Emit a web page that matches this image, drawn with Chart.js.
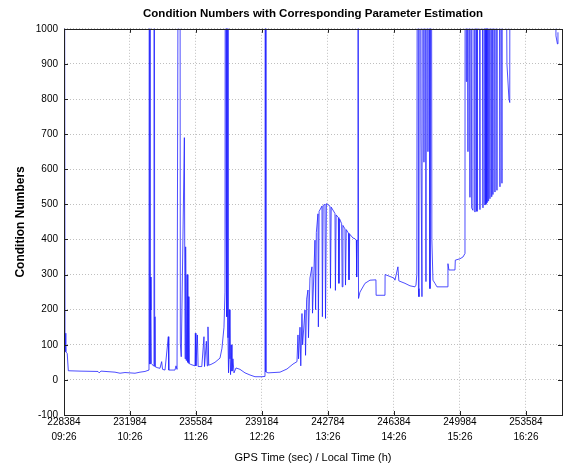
<!DOCTYPE html>
<html>
<head>
<meta charset="utf-8">
<script src="https://cdn.jsdelivr.net/npm/chart.js@4/dist/chart.umd.min.js"></script>
<style>
  html, body { margin: 0; padding: 0; background: #fff; }
</style>
</head>
<body>
<canvas id="c" width="565" height="468"></canvas>
<script>
// x ticks: GPS seconds of week + local time
const xTickValues = [228384, 231984, 235584, 239184, 242784, 246384, 249984, 253584];
const localTimeLabels = ['09:26', '10:26', '11:26', '12:26', '13:26', '14:26', '15:26', '16:26'];
const xRange = [228384, 255550];
const yRange = [-100, 1000];

// values above 1000 leave the axes (spikes)
const gpsTime = [
  228384, 228439, 228470, 228493, 228560, 228620, 229257, 230239,
  230300, 230400, 231166, 231439, 231711, 232257, 232529, 232802,
  233020, 233050, 233075, 233110, 233129, 233150, 233260, 233293,
  233330, 233348, 233460, 233620, 233711, 233760, 233893, 234075,
  234100, 234438, 234493, 234550, 234693, 234730, 234780, 234950,
  234990, 235020, 235060, 235100, 235140, 235160, 235200, 235300,
  235529, 235550, 235580, 235660, 235700, 235900, 236020, 236050,
  236150, 236200, 236238, 236280, 236400, 236620, 236893, 237002,
  237111, 237166, 237200, 237230, 237250, 237275, 237300, 237329,
  237360, 237400, 237438, 237470, 237500, 237547, 237600, 237657,
  237766, 237984, 238257, 238529, 238802, 239184, 239348, 239370,
  239390, 239402, 239511, 240166, 240547, 240875, 241093, 241147,
  241180, 241257, 241300, 241366, 241400, 241529, 241560, 241620,
  241693, 241720, 241800, 241911, 241940, 242075, 242110, 242150,
  242238, 242260, 242300, 242457, 242480, 242520, 242620, 242650,
  242700, 242893, 242920, 242960, 243166, 243190, 243230, 243350,
  243380, 243420, 243530, 243560, 243600, 243711, 243740, 243780,
  243900, 243930, 243970, 244150, 244257, 244330, 244350, 244380,
  244420, 244450, 244529, 244802, 245075, 245400, 245410, 245893,
  245900, 246384, 246438, 246600, 246650, 246984, 247257, 247529,
  247584, 247630, 247693, 247720, 247747, 247800, 247850, 247911,
  247966, 248020, 248060, 248129, 248180, 248238, 248300, 248347,
  248402, 248450, 248511, 248620, 248729, 249300, 249329, 249380,
  249711, 249730, 249984, 250147, 250257, 250280, 250330, 250366,
  250420, 250450, 250529, 250560, 250620, 250693, 250720, 250802,
  250860, 250911, 250980, 251075, 251120, 251238, 251280, 251347,
  251380, 251400, 251430, 251456, 251490, 251520, 251550, 251620,
  251650, 251700, 251730, 251784, 251820, 251893, 251930, 252002,
  252060, 252166, 252220, 252275, 252300, 252547, 252657, 252700,
  252740, 255166, 255220, 255300, 255330
];
const conditionNumber = [
  3000, 133, 100, 80, 75, 26, 25, 24,
  20, 25, 22, 19, 21, 19, 22, 24,
  28, 3000, 45, 293, 199, 47, 40, 3000,
  180, 38, 35, 33, 52, 30, 28, 123,
  28, 28, 40, 30, 3000, 105, 66, 690,
  60, 379, 55, 300, 50, 237, 47, 44,
  40, 133, 40, 128, 38, 38, 123, 38,
  110, 40, 151, 42, 44, 50, 62, 90,
  150, 250, 3000, 450, 3000, 180, 3000, 120,
  20, 200, 60, 15, 100, 25, 60, 20,
  34, 30, 20, 14, 9, 9, 10, 3000,
  137, 23, 20, 22, 31, 45, 52, 128,
  60, 150, 40, 189, 100, 199, 70, 230,
  256, 120, 290, 322, 190, 398, 200, 420,
  473, 151, 480, 495, 180, 497, 500, 175,
  502, 495, 261, 492, 474, 255, 470, 462,
  275, 458, 445, 265, 440, 430, 270, 428,
  418, 285, 415, 404, 402, 398, 293, 398,
  3000, 232, 250, 275, 284, 285, 241, 241,
  300, 290, 284, 322, 282, 275, 268, 265,
  270, 300, 3000, 260, 237, 3000, 700, 237,
  3000, 620, 3000, 280, 3000, 650, 3000, 260,
  3000, 400, 284, 275, 265, 265, 331, 313,
  313, 341, 345, 350, 360, 3000, 850, 3000,
  650, 3000, 520, 3000, 490, 483, 3000, 478,
  3000, 480, 3000, 485, 3000, 490, 3000, 498,
  3000, 500, 3000, 505, 3000, 510, 3000, 516,
  3000, 522, 3000, 528, 3000, 535, 3000, 540,
  3000, 550, 3000, 560, 3000, 900, 800, 790,
  3000, 3000, 980, 957, 990
];

const points = gpsTime.map((t, i) => ({ x: t, y: conditionNumber[i] }));

const FONT = '"Liberation Sans", Arial, sans-serif';

// matlab style box with inward ticks
const boxPlugin = {
  id: 'box',
  afterDraw(chart) {
    const { ctx, chartArea: a, scales } = chart;
    ctx.save();
    ctx.strokeStyle = '#222';
    ctx.lineWidth = 1;
    ctx.strokeRect(Math.round(a.left) + 0.5, Math.round(a.top) + 0.5,
      Math.round(a.right - a.left), Math.round(a.bottom - a.top));
    ctx.beginPath();
    const tl = 4;
    scales.x.ticks.forEach(t => {
      const px = Math.round(scales.x.getPixelForValue(t.value)) + 0.5;
      ctx.moveTo(px, a.bottom); ctx.lineTo(px, a.bottom - tl);
      ctx.moveTo(px, a.top); ctx.lineTo(px, a.top + tl);
    });
    scales.y.ticks.forEach(t => {
      const py = Math.round(scales.y.getPixelForValue(t.value)) + 0.5;
      ctx.moveTo(a.left, py); ctx.lineTo(a.left + tl, py);
      ctx.moveTo(a.right, py); ctx.lineTo(a.right - tl, py);
    });
    ctx.stroke();
    ctx.restore();
  }
};

new Chart(document.getElementById('c'), {
  type: 'line',
  data: {
    datasets: [{
      data: points,
      borderColor: '#2020ff',
      borderWidth: 0.8,
      pointRadius: 0,
      tension: 0,
      fill: false
    }]
  },
  options: {
    responsive: false,
    animation: false,
    layout: { padding: { left: 0, right: 3, top: 0, bottom: 0 } },
    plugins: {
      legend: { display: false },
      tooltip: { enabled: false },
      title: {
        display: true,
        text: 'Condition Numbers with Corresponding Parameter Estimation',
        fullSize: false,
        color: '#000',
        font: { family: FONT, size: 11.5, weight: 'bold' },
        padding: { top: 7, bottom: 8 }
      }
    },
    scales: {
      x: {
        type: 'linear',
        min: xRange[0],
        max: xRange[1],
        afterFit: s => { s.height = 53; },
        afterBuildTicks: s => { s.ticks = xTickValues.map(v => ({ value: v })); },
        grid: { color: 'rgba(0,0,0,0.25)', drawTicks: false },
        border: { display: false, dash: [1, 2] },
        ticks: {
          autoSkip: false,
          maxRotation: 0,
          padding: 0,
          color: '#000',
          font: { family: FONT, size: 10, lineHeight: '15px' },
          callback: v => {
            const i = xTickValues.indexOf(v);
            return i < 0 ? '' : [String(v), localTimeLabels[i]];
          }
        },
        title: {
          display: true,
          text: 'GPS Time (sec) / Local Time (h)',
          color: '#000',
          font: { family: FONT, size: 11 },
          padding: { top: 0, bottom: 3 }
        }
      },
      y: {
        min: yRange[0],
        max: yRange[1],
        afterFit: s => { s.width = 64; },
        grid: { color: 'rgba(0,0,0,0.25)', drawTicks: false },
        border: { display: false, dash: [1, 2] },
        ticks: {
          stepSize: 100,
          padding: 6,
          color: '#000',
          font: { family: FONT, size: 10 },
          callback: v => String(v)
        },
        title: {
          display: true,
          text: 'Condition Numbers',
          color: '#000',
          font: { family: FONT, size: 12, weight: 'bold' },
          padding: { top: 13, bottom: 0 }
        }
      }
    }
  },
  plugins: [boxPlugin]
});
</script>
</body>
</html>
